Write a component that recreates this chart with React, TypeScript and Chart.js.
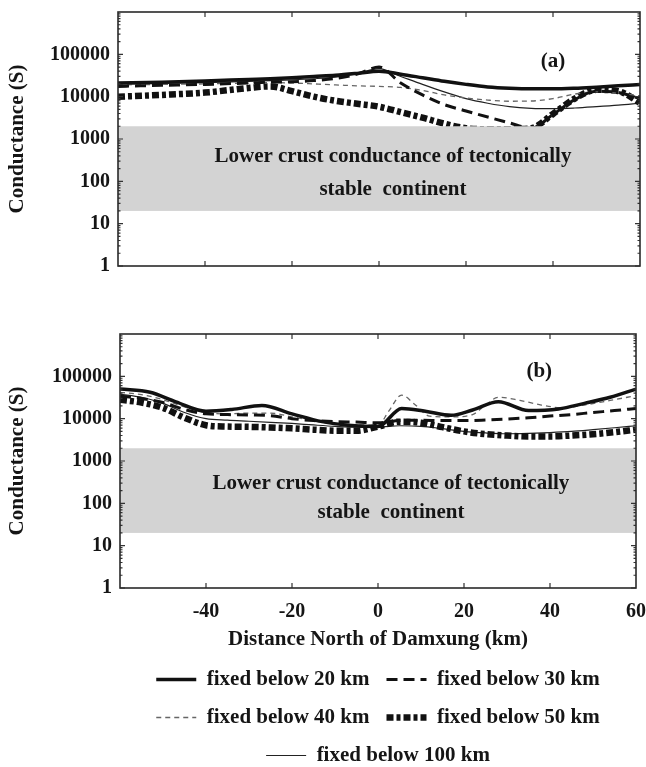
import React, { useEffect, useRef } from 'react';
import { Chart, registerables } from 'chart.js';

Chart.register(...registerables);

// ---------- data ----------
const SERIES_LABELS = [
  'fixed below 20 km',
  'fixed below 30 km',
  'fixed below 40 km',
  'fixed below 50 km',
  'fixed below 100 km',
];

// Panel (a)
const xA = [-60, -50, -40, -30, -25, -20, -15, -10, -5, 0, 5, 10, 15, 20, 25, 30, 35, 40, 45, 50, 55, 60];
const a20 = [21000, 22000, 23500, 25500, 26500, 28000, 30000, 32000, 35500, 40000, 34000, 28000, 23000, 19500, 17000, 15800, 15300, 15300, 15800, 16800, 18000, 19500];
const a30 = [17500, 18500, 19500, 21000, 22000, 22500, 24000, 27000, 34000, 50000, 21000, 11000, 6500, 4600, 3300, 2400, 1800, 3800, 8500, 13500, 12500, 9000];
const a40 = [19000, 19500, 20000, 21000, 21500, 21000, 20000, 19000, 18000, 17500, 16500, 14000, 11000, 9300, 8300, 7800, 7900, 9000, 11500, 13000, 12000, 10500];
const a50 = [10000, 11000, 12500, 16000, 17500, 13500, 10000, 8000, 6800, 5800, 4300, 3200, 2300, 1800, 1700, 1700, 1800, 3900, 9000, 14500, 13500, 7200];
const a100 = [20000, 20500, 21500, 23000, 24000, 25000, 26500, 29000, 35000, 46000, 30000, 19500, 13000, 9000, 7000, 5800, 5300, 5200, 5400, 5800, 6300, 7000];

// Panel (b)
const xB = [-60, -55, -50, -45, -40, -35, -30, -25, -20, -15, -10, -5, 0, 5, 10, 15, 20, 25, 30, 35, 40, 45, 50, 55, 60];
const xB20 = [-60, -53, -47, -40, -34, -27, -20, -13, -7, 0, 5.5, 11, 17, 22, 28, 35, 42, 48, 54, 60];
const b20 = [50000, 42000, 25000, 15000, 16500, 20500, 13000, 8500, 7000, 6500, 17500, 15000, 12000, 16000, 25000, 15500, 17000, 23000, 32000, 50000];
const b30 = [34000, 30000, 24000, 16500, 13000, 12500, 12200, 11800, 10000, 9000, 8500, 8300, 8000, 9000, 9200, 9000, 9000, 9300, 9800, 10500, 11500, 12500, 14000, 15500, 17500];
const xB40 = [-60, -55, -50, -45, -40, -35, -30, -25, -20, -15, -10, -5, 0, 2.5, 5.5, 8.5, 12, 17, 22, 25, 28, 33, 38, 43, 48, 54, 60];
const b40 = [42000, 37000, 28000, 19000, 14000, 13000, 13500, 13500, 11000, 9000, 7500, 7200, 7000, 15000, 36000, 22000, 11500, 11000, 12500, 21000, 32000, 27000, 21000, 18000, 21000, 27000, 35000];
const b50 = [28000, 24000, 18000, 10500, 7000, 6500, 6400, 6200, 5900, 5500, 5200, 5200, 6500, 8500, 8000, 6300, 5000, 4300, 4000, 3800, 3800, 4000, 4300, 4800, 5500];
const b100 = [38000, 32000, 23000, 14000, 10000, 9200, 8700, 8200, 7700, 7100, 6600, 6300, 6300, 6800, 6600, 5800, 5000, 4600, 4400, 4500, 4700, 5000, 5500, 6100, 6800];

const BAND_RANGE = [20, 2000];
const BAND_TEXT = ['Lower crust conductance of tectonically', 'stable  continent'];
const Y_TICKS = [1, 10, 100, 1000, 10000, 100000, 1000000];
const X_MAJOR = [-40, -20, 0, 20, 40];

// ---------- styles ----------
const FONT_FAMILY = '"Liberation Serif", "Times New Roman", serif';
const STYLES = [
  { color: '#111', width: 3.5, dash: [] as number[] },
  { color: '#111', width: 3, dash: [11, 6] },
  { color: '#666', width: 1.3, dash: [5, 4] },
  { color: '#111', width: 6.5, dash: [7, 3, 4, 3] },
  { color: '#222', width: 1.2, dash: [] as number[] },
];

function zip(xs: number[], ys: number[]) {
  return xs.map((x, i) => ({ x, y: ys[i] }));
}

function makeDatasets(series: { x: number[]; y: number[] }[]) {
  return series.map((s, i) => ({
    label: SERIES_LABELS[i],
    data: zip(s.x, s.y),
    borderColor: STYLES[i].color,
    backgroundColor: STYLES[i].color,
    borderWidth: STYLES[i].width,
    borderDash: STYLES[i].dash,
    borderCapStyle: 'butt' as const,
    pointRadius: 0,
    fill: false,
    cubicInterpolationMode: 'monotone' as const,
  }));
}

const panelPlugin = {
  id: 'panel',
  afterDatasetsDraw(chart: any, _args: any, opts: any) {
    const { ctx, chartArea: ca, scales } = chart;
    const x = scales.x;
    const y = scales.y;
    const top = y.getPixelForValue(BAND_RANGE[1]);
    const bot = y.getPixelForValue(BAND_RANGE[0]);
    ctx.save();
    ctx.fillStyle = '#d3d3d3';
    ctx.fillRect(ca.left, top, ca.right - ca.left, bot - top);
    ctx.fillStyle = '#151515';
    ctx.font = `bold 21px ${FONT_FAMILY}`;
    ctx.textAlign = 'center';
    ctx.textBaseline = 'middle';
    ctx.fillText(BAND_TEXT[0], x.getPixelForValue(opts.textX), y.getPixelForValue(opts.textY[0]));
    ctx.fillText(BAND_TEXT[1], x.getPixelForValue(opts.textX), y.getPixelForValue(opts.textY[1]));
    ctx.fillText(opts.label, x.getPixelForValue(opts.labelPos[0]), y.getPixelForValue(opts.labelPos[1]));
    ctx.restore();
  },
  afterDraw(chart: any) {
    const { ctx, chartArea: ca, scales } = chart;
    const x = scales.x;
    const y = scales.y;
    ctx.save();
    ctx.strokeStyle = '#333';
    ctx.lineWidth = 1.2;
    ctx.beginPath();
    X_MAJOR.forEach((v) => {
      const px = x.getPixelForValue(v);
      ctx.moveTo(px, ca.top);
      ctx.lineTo(px, ca.top + 5);
      ctx.moveTo(px, ca.bottom);
      ctx.lineTo(px, ca.bottom - 5);
    });
    for (let d = 0; d < 6; d++) {
      for (let m = 1; m <= 9; m++) {
        const v = m * Math.pow(10, d);
        const py = y.getPixelForValue(v);
        const len = m === 1 ? 5 : 2.5;
        ctx.moveTo(ca.left, py);
        ctx.lineTo(ca.left + len, py);
        ctx.moveTo(ca.right, py);
        ctx.lineTo(ca.right - len, py);
      }
    }
    ctx.stroke();
    ctx.lineWidth = 1.6;
    ctx.strokeStyle = '#2a2a2a';
    ctx.strokeRect(ca.left, ca.top, ca.right - ca.left, ca.bottom - ca.top);
    ctx.restore();
  },
};

function makeOptions(cfg: {
  showX: boolean;
  padding: { top: number; right: number; left: number; bottom: number };
  yWidth: number;
  xHeight: number;
  legend: boolean;
  panel: any;
}) {
  const tickFont = { family: FONT_FAMILY, size: 20, weight: 'bold' as const };
  const titleFont = { family: FONT_FAMILY, size: 21, weight: 'bold' as const };
  return {
    responsive: false,
    animation: false as const,
    layout: { padding: cfg.padding },
    plugins: {
      tooltip: { enabled: false },
      panel: cfg.panel,
      legend: {
        display: cfg.legend,
        position: 'bottom' as const,
        fullSize: false,
        labels: {
          usePointStyle: true,
          pointStyle: 'line' as const,
          pointStyleWidth: 40,
          padding: 17,
          color: '#151515',
          font: titleFont,
          generateLabels: (chart: any) =>
            chart.data.datasets.map((ds: any, i: number) => ({
              text: ds.label,
              fillStyle: ds.borderColor,
              strokeStyle: ds.borderColor,
              lineWidth: ds.borderWidth,
              lineDash: ds.borderDash,
              lineCap: 'butt',
              pointStyle: 'line',
              fontColor: '#151515',
              hidden: false,
              datasetIndex: i,
            })),
        },
      },
    },
    scales: {
      x: {
        type: 'linear' as const,
        min: -60,
        max: 60,
        grid: {
          display: true,
          drawOnChartArea: false,
          drawTicks: true,
          tickLength: 12,
          tickColor: 'rgba(0,0,0,0)',
        },
        border: { display: false },
        ticks: {
          display: cfg.showX,
          stepSize: 20,
          padding: 0,
          color: '#151515',
          font: tickFont,
          maxRotation: 0,
          callback: (v: any) => (Number(v) === -60 ? null : String(v)),
        },
        title: {
          display: cfg.showX,
          text: 'Distance North of Damxung (km)',
          color: '#151515',
          font: titleFont,
          padding: { top: 0, bottom: 0 },
        },
        afterFit: (s: any) => {
          s.height = cfg.xHeight;
        },
      },
      y: {
        type: 'logarithmic' as const,
        min: 1,
        max: 1000000,
        afterBuildTicks: (s: any) => {
          s.ticks = Y_TICKS.map((v) => ({ value: v }));
        },
        grid: {
          display: true,
          drawOnChartArea: false,
          drawTicks: true,
          tickLength: 8,
          tickColor: 'rgba(0,0,0,0)',
        },
        border: { display: false },
        ticks: {
          padding: 0,
          color: '#151515',
          font: tickFont,
          autoSkip: false,
          callback: (v: any) => (Number(v) <= 100000 ? String(v) : null),
        },
        title: {
          display: true,
          text: 'Conductance (S)',
          color: '#151515',
          font: titleFont,
          padding: { top: 5, bottom: 0 },
        },
        afterFit: (s: any) => {
          s.width = cfg.yWidth;
        },
      },
    },
  };
}

export default function App() {
  const refA = useRef<HTMLCanvasElement>(null);
  const refB = useRef<HTMLCanvasElement>(null);

  useEffect(() => {
    if (!refA.current || !refB.current) return;
    const chartA = new Chart(refA.current, {
      type: 'line',
      data: {
        datasets: makeDatasets([
          { x: xA, y: a20 },
          { x: xA, y: a30 },
          { x: xA, y: a40 },
          { x: xA, y: a50 },
          { x: xA, y: a100 },
        ]),
      },
      options: makeOptions({
        showX: false,
        padding: { top: 12, right: 6, left: 0, bottom: 0 },
        yWidth: 118,
        xHeight: 34,
        legend: false,
        panel: { label: '(a)', labelPos: [40, 67000], textX: 3.2, textY: [380, 63] },
      }) as any,
      plugins: [panelPlugin],
    });
    const chartB = new Chart(refB.current, {
      type: 'line',
      data: {
        datasets: makeDatasets([
          { x: xB20, y: b20 },
          { x: xB, y: b30 },
          { x: xB40, y: b40 },
          { x: xB, y: b50 },
          { x: xB, y: b100 },
        ]),
      },
      options: makeOptions({
        showX: true,
        padding: { top: 34, right: 10, left: 0, bottom: 0 },
        yWidth: 120,
        xHeight: 64,
        legend: true,
        panel: { label: '(b)', labelPos: [37.5, 130000], textX: 3, textY: [290, 60] },
      }) as any,
      plugins: [panelPlugin],
    });
    return () => {
      chartA.destroy();
      chartB.destroy();
    };
  }, []);

  return (
    <div
      style={{
        position: 'absolute',
        left: 0,
        top: 0,
        width: 646,
        height: 767,
        overflow: 'hidden',
        background: '#fff',
      }}
    >
      <canvas
        ref={refA}
        width={646}
        height={300}
        style={{ position: 'absolute', left: 0, top: 0, width: 646, height: 300, display: 'block' }}
      />
      <canvas
        ref={refB}
        width={646}
        height={476}
        style={{ position: 'absolute', left: 0, top: 300, width: 646, height: 476, display: 'block' }}
      />
    </div>
  );
}
